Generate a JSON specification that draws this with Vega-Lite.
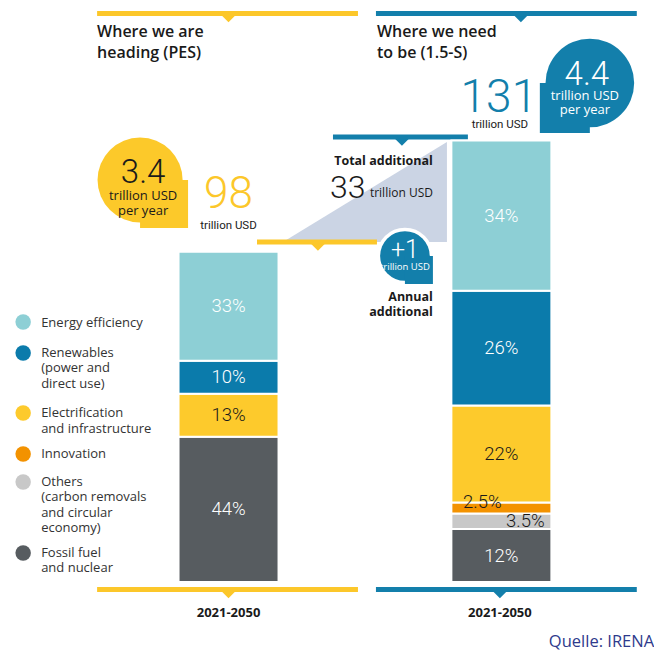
{
  "$schema": "https://vega.github.io/schema/vega-lite/v6.json",
  "width": 654,
  "height": 651,
  "padding": 0,
  "autosize": {"type": "none"},
  "background": "white",
  "config": {"view": {"stroke": null}, "text": {"font": "Open Sans"}},
  "datasets": {
    "bars": [
      {"scenario": "PES", "x": 1, "category": "Fossil fuel and nuclear", "ord": 1, "pct": 44, "value": 43.12, "label": "44%"},
      {"scenario": "PES", "x": 1, "category": "Electrification and infrastructure", "ord": 4, "pct": 13, "value": 12.74, "label": "13%"},
      {"scenario": "PES", "x": 1, "category": "Renewables", "ord": 5, "pct": 10, "value": 9.8, "label": "10%"},
      {"scenario": "PES", "x": 1, "category": "Energy efficiency", "ord": 6, "pct": 33, "value": 32.34, "label": "33%"},
      {"scenario": "1.5-S", "x": 2, "category": "Fossil fuel and nuclear", "ord": 1, "pct": 12, "value": 15.72, "label": "12%"},
      {"scenario": "1.5-S", "x": 2, "category": "Others", "ord": 2, "pct": 3.5, "value": 4.585, "label": "3.5%"},
      {"scenario": "1.5-S", "x": 2, "category": "Innovation", "ord": 3, "pct": 2.5, "value": 3.275, "label": "2.5%"},
      {"scenario": "1.5-S", "x": 2, "category": "Electrification and infrastructure", "ord": 4, "pct": 22, "value": 28.82, "label": "22%"},
      {"scenario": "1.5-S", "x": 2, "category": "Renewables", "ord": 5, "pct": 26, "value": 34.06, "label": "26%"},
      {"scenario": "1.5-S", "x": 2, "category": "Energy efficiency", "ord": 6, "pct": 34, "value": 44.54, "label": "34%"}
    ],
    "poly": [
      {"x": 1.1996, "y": 100.89, "y2": 100.89},
      {"x": 1.8004, "y": 130.56, "y2": 100.89}
    ],
    "rules": [
      {"scen": "PES", "x": 0.5183, "x2": 1.4744, "y": 168.69},
      {"scen": "PES", "x": 0.5183, "x2": 1.4744, "y": -2.23},
      {"scen": "PES", "x": 1.1044, "x2": 1.5440, "y": 100.89},
      {"scen": "1.5-S", "x": 1.5403, "x2": 2.4963, "y": 168.69},
      {"scen": "1.5-S", "x": 1.5403, "x2": 2.4963, "y": -2.23},
      {"scen": "1.5-S", "x": 1.3828, "x2": 1.8773, "y": 132.05}
    ],
    "ticks": [
      {"scen": "PES", "x": 1.0, "y": 167.36},
      {"scen": "PES", "x": 1.0, "y": -3.56},
      {"scen": "PES", "x": 1.3278, "y": 99.55},
      {"scen": "1.5-S", "x": 2.0714, "y": 167.36},
      {"scen": "1.5-S", "x": 1.9945, "y": -3.56},
      {"scen": "1.5-S", "x": 1.6355, "y": 130.71}
    ],
    "bubbles": [
      {"b": "plus", "part": "round", "x": 1.6465, "y": 96.74},
      {"b": "plus", "part": "corner", "x": 1.6978, "y": 92.58},
      {"b": "pes", "part": "round", "x": 0.6758, "y": 119.29},
      {"b": "pes", "part": "corner", "x": 0.7637, "y": 112.17},
      {"b": "s15", "part": "round", "x": 2.3242, "y": 148.07},
      {"b": "s15", "part": "corner", "x": 2.2326, "y": 140.65}
    ],
    "legend": [
      {"category": "Energy efficiency", "x": 0.2473, "y": 77.15, "tx": 0.3132, "ty": 75.67, "t": "Energy efficiency"},
      {"category": "Renewables", "x": 0.2473, "y": 67.95, "tx": 0.3132, "ty": 66.77, "t": "Renewables\n(power and\ndirect use)"},
      {"category": "Electrification and infrastructure", "x": 0.2473, "y": 50.15, "tx": 0.3132, "ty": 48.96, "t": "Electrification\nand infrastructure"},
      {"category": "Innovation", "x": 0.2473, "y": 37.98, "tx": 0.3132, "ty": 36.80, "t": "Innovation"},
      {"category": "Others", "x": 0.2473, "y": 29.67, "tx": 0.3132, "ty": 28.49, "t": "Others\n(carbon removals\nand circular\neconomy)"},
      {"category": "Fossil fuel and nuclear", "x": 0.2473, "y": 8.61, "tx": 0.3132, "ty": 7.42, "t": "Fossil fuel\nand nuclear"}
    ],
    "texts": [
      {"s": "title", "x": 0.5183, "y": 161.72, "t": "Where we are\nheading (PES)"},
      {"s": "title", "x": 1.5440, "y": 161.72, "t": "Where we need\nto be (1.5-S)"},
      {"s": "year", "x": 1.0, "y": -10.39, "t": "2021-2050"},
      {"s": "year", "x": 1.9945, "y": -10.39, "t": "2021-2050"},
      {"s": "src", "x": 2.1740, "y": -19.29, "t": "Quelle: IRENA"},
      {"s": "boldR", "x": 1.7491, "y": 123.74, "t": "Total additional"},
      {"s": "boldR", "x": 1.7491, "y": 83.38, "t": "Annual\nadditional"},
      {"s": "n33", "x": 1.3718, "y": 113.95, "t": "33"},
      {"s": "n98", "x": 1.0, "y": 110.98, "t": "98"},
      {"s": "n131", "x": 1.9908, "y": 139.47, "t": "131"},
      {"s": "n34", "x": 0.6868, "y": 118.40, "t": "3.4"},
      {"s": "n44", "x": 2.3132, "y": 147.48, "t": "4.4"},
      {"s": "n1", "x": 1.6465, "y": 96.14, "t": "+1"},
      {"s": "cu", "x": 1.0, "y": 104.75, "t": "trillion USD"},
      {"s": "cu", "x": 1.9945, "y": 134.72, "t": "trillion USD"},
      {"s": "ru", "x": 1.7491, "y": 114.24, "t": "trillion USD"},
      {"s": "bubY", "x": 0.6868, "y": 113.35, "t": "trillion USD\nper year"},
      {"s": "bubB", "x": 2.3059, "y": 143.03, "t": "trillion USD\nper year"},
      {"s": "bubP", "x": 1.6465, "y": 92.58, "t": "trillion USD"}
    ]
  },
  "encoding": {
    "x": {"field": "x", "type": "quantitative", "scale": {"domain": [0.18077, 2.54103], "nice": false, "zero": false}, "axis": null},
    "y": {"field": "y", "type": "quantitative", "scale": {"domain": [-20.475, 172.7], "nice": false, "zero": false}, "axis": null}
  },
  "layer": [
    {
      "data": {"name": "poly"},
      "mark": {"type": "area", "color": "#cbd4e4"},
      "encoding": {"y2": {"field": "y2"}}
    },
    {
      "data": {"name": "rules"},
      "transform": [{"filter": "datum.scen == 'PES'"}],
      "mark": {"type": "rule", "color": "#fcc72a", "strokeWidth": 5},
      "encoding": {"x2": {"field": "x2"}}
    },
    {
      "data": {"name": "rules"},
      "transform": [{"filter": "datum.scen == '1.5-S'"}],
      "mark": {"type": "rule", "color": "#137fab", "strokeWidth": 5},
      "encoding": {"x2": {"field": "x2"}}
    },
    {
      "data": {"name": "ticks"},
      "transform": [{"filter": "datum.scen == 'PES'"}],
      "mark": {"type": "point", "shape": "M-1,-0.4L1,-0.4L0,0.6Z", "size": 196, "filled": true, "opacity": 1, "color": "#fcc72a"}
    },
    {
      "data": {"name": "ticks"},
      "transform": [{"filter": "datum.scen == '1.5-S'"}],
      "mark": {"type": "point", "shape": "M-1,-0.4L1,-0.4L0,0.6Z", "size": 196, "filled": true, "opacity": 1, "color": "#137fab"}
    },
    {
      "data": {"name": "bubbles"},
      "transform": [{"filter": "datum.b == 'plus' && datum.part == 'round'"}],
      "mark": {"type": "point", "shape": "circle", "size": 2463, "filled": true, "opacity": 1, "color": "white", "stroke": "white", "strokeWidth": 7}
    },
    {
      "data": {"name": "bubbles"},
      "transform": [{"filter": "datum.b == 'plus' && datum.part == 'corner'"}],
      "mark": {"type": "point", "shape": "square", "size": 784, "filled": true, "opacity": 1, "color": "white", "stroke": "white", "strokeWidth": 7}
    },
    {
      "data": {"name": "bubbles"},
      "transform": [{"filter": "datum.b == 'plus' && datum.part == 'round'"}],
      "mark": {"type": "point", "shape": "circle", "size": 2463, "filled": true, "opacity": 1, "color": "#137fab"}
    },
    {
      "data": {"name": "bubbles"},
      "transform": [{"filter": "datum.b == 'plus' && datum.part == 'corner'"}],
      "mark": {"type": "point", "shape": "square", "size": 784, "filled": true, "opacity": 1, "color": "#137fab"}
    },
    {
      "data": {"name": "bubbles"},
      "transform": [{"filter": "datum.b == 'pes' && datum.part == 'round'"}],
      "mark": {"type": "point", "shape": "circle", "size": 7238, "filled": true, "opacity": 1, "color": "#fcc92a"}
    },
    {
      "data": {"name": "bubbles"},
      "transform": [{"filter": "datum.b == 'pes' && datum.part == 'corner'"}],
      "mark": {"type": "point", "shape": "square", "size": 2304, "filled": true, "opacity": 1, "color": "#fcc92a"}
    },
    {
      "data": {"name": "bubbles"},
      "transform": [{"filter": "datum.b == 's15' && datum.part == 'round'"}],
      "mark": {"type": "point", "shape": "circle", "size": 7854, "filled": true, "opacity": 1, "color": "#137fab"}
    },
    {
      "data": {"name": "bubbles"},
      "transform": [{"filter": "datum.b == 's15' && datum.part == 'corner'"}],
      "mark": {"type": "point", "shape": "square", "size": 2500, "filled": true, "opacity": 1, "color": "#137fab"}
    },
    {
      "data": {"name": "bars"},
      "mark": {"type": "bar", "width": 100, "stroke": "white", "strokeWidth": 2},
      "encoding": {
        "y": {"field": "value", "type": "quantitative", "stack": "zero", "scale": {"domain": [-20.475, 172.7], "nice": false, "zero": false}, "axis": null},
        "color": {"field": "category", "type": "nominal", "scale": {"domain": ["Energy efficiency", "Renewables", "Electrification and infrastructure", "Innovation", "Others", "Fossil fuel and nuclear"], "range": ["#8dcfd5", "#0b7bab", "#fdca2c", "#f39200", "#c8c8c8", "#575c60"]}, "legend": null},
        "order": {"field": "ord", "type": "quantitative", "sort": "ascending"}
      }
    },
    {
      "data": {"name": "bars"},
      "transform": [
        {"stack": "value", "groupby": ["x"], "sort": [{"field": "ord", "order": "ascending"}], "as": ["v0", "v1"]},
        {"calculate": "(datum.v0 + datum.v1) / 2", "as": "mid"},
        {"filter": "datum.category == 'Energy efficiency' || datum.category == 'Renewables' || datum.category == 'Fossil fuel and nuclear'"}
      ],
      "mark": {"type": "text", "font": "Roboto", "fontWeight": 300, "fontSize": 18.5, "color": "white", "align": "center", "baseline": "middle"},
      "encoding": {
        "y": {"field": "mid", "type": "quantitative", "scale": {"domain": [-20.475, 172.7], "nice": false, "zero": false}, "axis": null},
        "text": {"field": "label"}
      }
    },
    {
      "data": {"name": "bars"},
      "transform": [
        {"stack": "value", "groupby": ["x"], "sort": [{"field": "ord", "order": "ascending"}], "as": ["v0", "v1"]},
        {"calculate": "(datum.v0 + datum.v1) / 2", "as": "mid"},
        {"filter": "datum.category == 'Electrification and infrastructure'"}
      ],
      "mark": {"type": "text", "font": "Roboto", "fontWeight": 300, "fontSize": 18.5, "color": "#1a1a1a", "align": "center", "baseline": "middle"},
      "encoding": {
        "y": {"field": "mid", "type": "quantitative", "scale": {"domain": [-20.475, 172.7], "nice": false, "zero": false}, "axis": null},
        "text": {"field": "label"}
      }
    },
    {
      "data": {"name": "bars"},
      "transform": [
        {"stack": "value", "groupby": ["x"], "sort": [{"field": "ord", "order": "ascending"}], "as": ["v0", "v1"]},
        {"calculate": "(datum.v0 + datum.v1) / 2", "as": "mid"},
        {"filter": "datum.category == 'Innovation'"}
      ],
      "mark": {"type": "text", "font": "Roboto", "fontWeight": 300, "fontSize": 18.5, "color": "#1a1a1a", "align": "center", "baseline": "alphabetic", "dx": -19},
      "encoding": {
        "y": {"field": "mid", "type": "quantitative", "scale": {"domain": [-20.475, 172.7], "nice": false, "zero": false}, "axis": null},
        "text": {"field": "label"}
      }
    },
    {
      "data": {"name": "bars"},
      "transform": [
        {"stack": "value", "groupby": ["x"], "sort": [{"field": "ord", "order": "ascending"}], "as": ["v0", "v1"]},
        {"calculate": "(datum.v0 + datum.v1) / 2", "as": "mid"},
        {"filter": "datum.category == 'Others'"}
      ],
      "mark": {"type": "text", "font": "Roboto", "fontWeight": 300, "fontSize": 18.5, "color": "#1a1a1a", "align": "center", "baseline": "middle", "dx": 24},
      "encoding": {
        "y": {"field": "mid", "type": "quantitative", "scale": {"domain": [-20.475, 172.7], "nice": false, "zero": false}, "axis": null},
        "text": {"field": "label"}
      }
    },
    {
      "data": {"name": "legend"},
      "mark": {"type": "point", "shape": "circle", "size": 240, "filled": true, "opacity": 1},
      "encoding": {
        "color": {"field": "category", "type": "nominal", "legend": null}
      }
    },
    {
      "data": {"name": "legend"},
      "mark": {"type": "text", "fontSize": 13, "color": "#333333", "align": "left", "baseline": "alphabetic", "lineBreak": "\n", "lineHeight": 15.5},
      "encoding": {
        "x": {"field": "tx", "type": "quantitative", "scale": {"domain": [0.18077, 2.54103], "nice": false, "zero": false}, "axis": null},
        "y": {"field": "ty", "type": "quantitative", "scale": {"domain": [-20.475, 172.7], "nice": false, "zero": false}, "axis": null},
        "text": {"field": "t"}
      }
    },
    {
      "data": {"name": "texts"},
      "transform": [{"filter": "datum.s == 'title'"}],
      "mark": {"type": "text", "fontSize": 16, "fontWeight": 600, "color": "#1a1a1a", "align": "left", "baseline": "alphabetic", "lineBreak": "\n", "lineHeight": 21},
      "encoding": {"text": {"field": "t"}}
    },
    {
      "data": {"name": "texts"},
      "transform": [{"filter": "datum.s == 'year'"}],
      "mark": {"type": "text", "fontSize": 13, "fontWeight": "bold", "color": "#1a1a1a", "align": "center", "baseline": "alphabetic"},
      "encoding": {"text": {"field": "t"}}
    },
    {
      "data": {"name": "texts"},
      "transform": [{"filter": "datum.s == 'src'"}],
      "mark": {"type": "text", "fontSize": 16.5, "color": "#2e3a8c", "align": "left", "baseline": "alphabetic"},
      "encoding": {"text": {"field": "t"}}
    },
    {
      "data": {"name": "texts"},
      "transform": [{"filter": "datum.s == 'boldR'"}],
      "mark": {"type": "text", "fontSize": 12.5, "fontWeight": "bold", "color": "#1a1a1a", "align": "right", "baseline": "alphabetic", "lineBreak": "\n", "lineHeight": 14.5},
      "encoding": {"text": {"field": "t"}}
    },
    {
      "data": {"name": "texts"},
      "transform": [{"filter": "datum.s == 'n33'"}],
      "mark": {"type": "text", "font": "Roboto", "fontWeight": 300, "fontSize": 32, "color": "#1a1a1a", "align": "left", "baseline": "alphabetic"},
      "encoding": {"text": {"field": "t"}}
    },
    {
      "data": {"name": "texts"},
      "transform": [{"filter": "datum.s == 'n98'"}],
      "mark": {"type": "text", "font": "Roboto", "fontWeight": 300, "fontSize": 44, "color": "#fcc72a", "align": "center", "baseline": "alphabetic"},
      "encoding": {"text": {"field": "t"}}
    },
    {
      "data": {"name": "texts"},
      "transform": [{"filter": "datum.s == 'n131'"}],
      "mark": {"type": "text", "font": "Roboto", "fontWeight": 300, "fontSize": 46, "color": "#137fab", "align": "center", "baseline": "alphabetic"},
      "encoding": {"text": {"field": "t"}}
    },
    {
      "data": {"name": "texts"},
      "transform": [{"filter": "datum.s == 'n34'"}],
      "mark": {"type": "text", "font": "Roboto", "fontWeight": 300, "fontSize": 33, "color": "#1a1a1a", "align": "center", "baseline": "alphabetic"},
      "encoding": {"text": {"field": "t"}}
    },
    {
      "data": {"name": "texts"},
      "transform": [{"filter": "datum.s == 'n44'"}],
      "mark": {"type": "text", "font": "Roboto", "fontWeight": 300, "fontSize": 33, "color": "white", "align": "center", "baseline": "alphabetic"},
      "encoding": {"text": {"field": "t"}}
    },
    {
      "data": {"name": "texts"},
      "transform": [{"filter": "datum.s == 'n1'"}],
      "mark": {"type": "text", "font": "Roboto", "fontWeight": 300, "fontSize": 25, "color": "white", "align": "center", "baseline": "alphabetic"},
      "encoding": {"text": {"field": "t"}}
    },
    {
      "data": {"name": "texts"},
      "transform": [{"filter": "datum.s == 'cu'"}],
      "mark": {"type": "text", "font": "Roboto", "fontSize": 11.5, "color": "#1a1a1a", "align": "center", "baseline": "alphabetic"},
      "encoding": {"text": {"field": "t"}}
    },
    {
      "data": {"name": "texts"},
      "transform": [{"filter": "datum.s == 'ru'"}],
      "mark": {"type": "text", "fontSize": 12, "color": "#1a1a1a", "align": "right", "baseline": "alphabetic"},
      "encoding": {"text": {"field": "t"}}
    },
    {
      "data": {"name": "texts"},
      "transform": [{"filter": "datum.s == 'bubY'"}],
      "mark": {"type": "text", "fontSize": 13, "color": "#1a1a1a", "align": "center", "baseline": "alphabetic", "lineBreak": "\n", "lineHeight": 15},
      "encoding": {"text": {"field": "t"}}
    },
    {
      "data": {"name": "texts"},
      "transform": [{"filter": "datum.s == 'bubB'"}],
      "mark": {"type": "text", "fontSize": 13, "color": "white", "align": "center", "baseline": "alphabetic", "lineBreak": "\n", "lineHeight": 14.5},
      "encoding": {"text": {"field": "t"}}
    },
    {
      "data": {"name": "texts"},
      "transform": [{"filter": "datum.s == 'bubP'"}],
      "mark": {"type": "text", "fontSize": 9.5, "color": "white", "align": "center", "baseline": "alphabetic"},
      "encoding": {"text": {"field": "t"}}
    }
  ]
}
